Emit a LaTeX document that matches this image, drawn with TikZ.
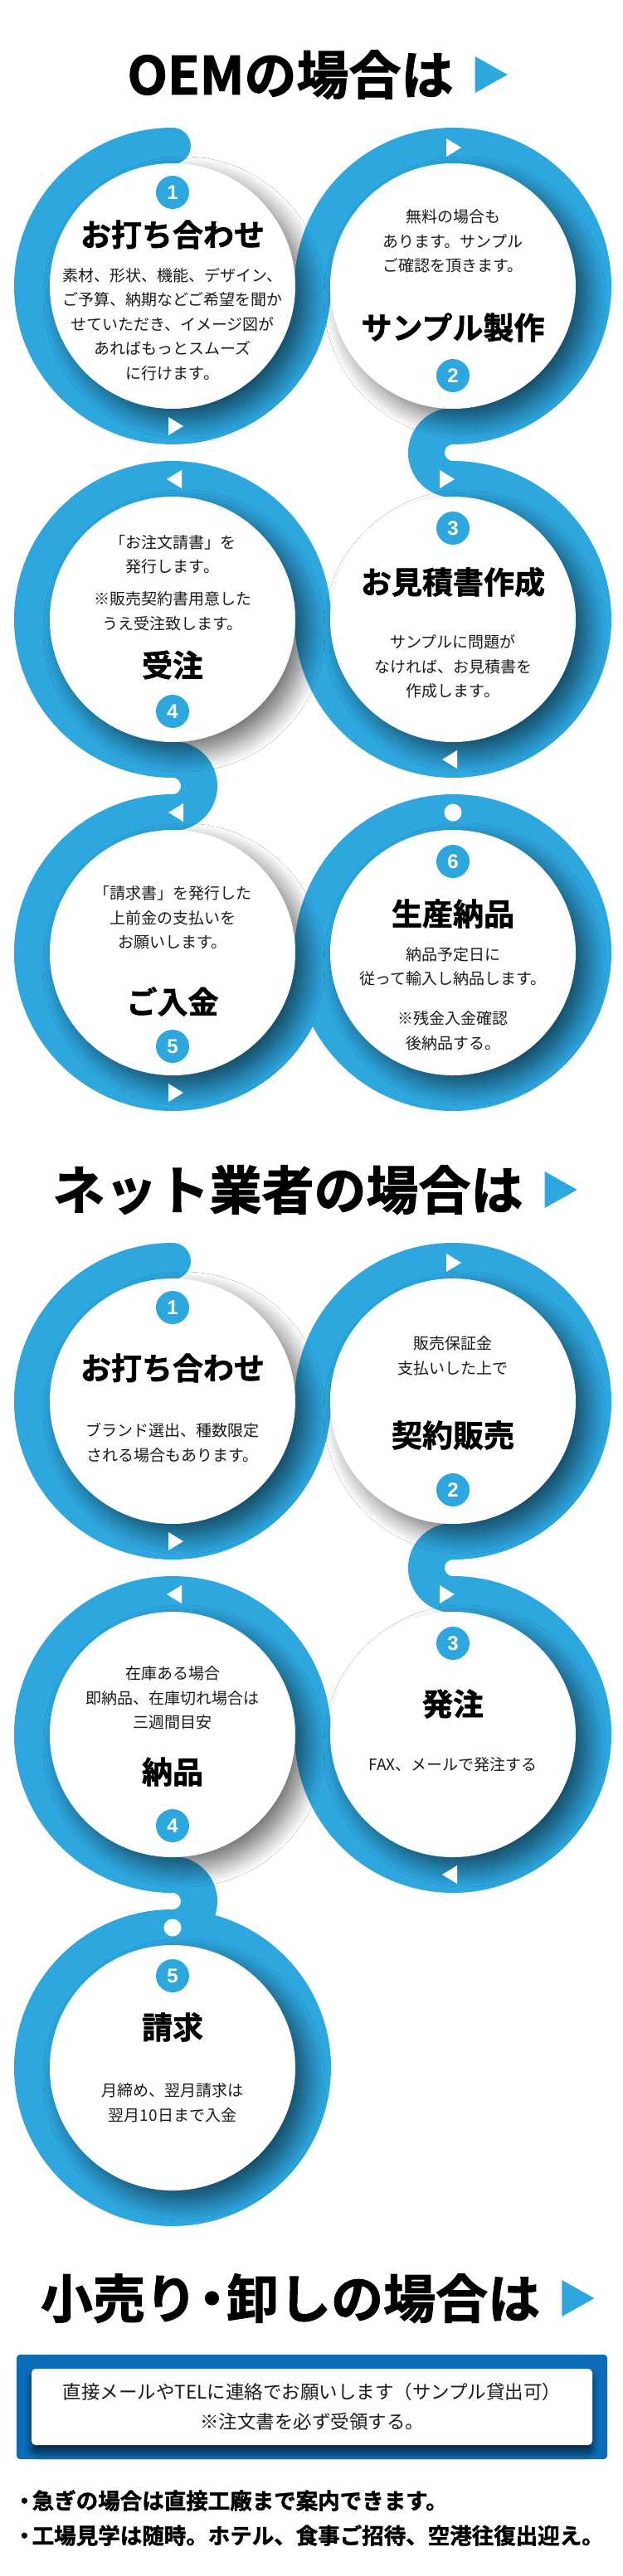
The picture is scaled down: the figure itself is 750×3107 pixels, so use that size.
\documentclass[tikz,border=0pt]{standalone}
\usepackage{fontspec}
\usepackage{tikz}
\usetikzlibrary{positioning,calc,shadows.blur}
\setmainfont{Noto Sans CJK JP}[BoldFont={Noto Sans CJK JP Bold}]
\newfontfamily\heavyjp{Noto Sans CJK JP Bold}[FakeBold=1.6]
\newfontfamily\numsans{Liberation Sans}
\newcommand{\headfont}{\heavyjp\fontsize{63}{70}\selectfont}
\newcommand{\stepfont}{\heavyjp\fontsize{37}{42}\selectfont}
\newcommand{\bodyfont}{\fontsize{19}{29.5}\selectfont}
\newcommand{\notefont}{\fontsize{22.5}{36}\selectfont}
\newcommand{\bulletfont}{\heavyjp\fontsize{26.5}{42}\selectfont}
\newcommand{\middot}{\kern-0.22em・\kern-0.22em}
\definecolor{ringblue}{RGB}{46,166,222}
\definecolor{boxblue}{RGB}{12,108,182}
\definecolor{ink}{RGB}{26,26,26}
\tikzset{
    band/.style={
        draw=ringblue,
        line width=44pt
    },
    disk/.style={
        circle,
        fill=white,
        minimum size=296pt,
        inner sep=0pt,
        blur shadow={shadow xshift=14pt, shadow yshift=-14pt,
            shadow blur radius=22pt, shadow blur steps=14,
            shadow opacity=55}
    },
    badge/.style={
        circle,
        fill=ringblue,
        minimum size=40pt,
        inner sep=0pt,
        text=white,
        font=\numsans\bfseries\fontsize{24}{24}\selectfont
    },
    endpoint/.style={
        circle,
        fill=white,
        minimum size=21pt,
        inner sep=0pt
    },
    steptitle/.style={
        font=\stepfont,
        inner sep=0pt
    },
    stepnote/.style={
        font=\bodyfont,
        text=ink,
        align=center,
        inner sep=0pt
    },
    heading/.style={
        font=\headfont,
        inner sep=0pt
    },
    outerbox/.style={
        rectangle,
        fill=boxblue,
        rounded corners=4pt,
        minimum width=712pt,
        minimum height=126pt
    },
    innerbox/.style={
        rectangle,
        fill=white,
        rounded corners=5pt,
        minimum width=676pt,
        minimum height=92pt,
        align=center,
        text=ink,
        font=\notefont,
        blur shadow={shadow xshift=0pt, shadow yshift=-9pt,
            shadow blur radius=8pt, shadow blur steps=10,
            shadow opacity=60}
    },
    bulletline/.style={
        font=\bulletfont,
        anchor=west,
        inner sep=0pt
    },
    arrowfwd/.pic={\fill[white] (-8,-11) -- (10,0) -- (-8,11) -- cycle;},
    arrowback/.pic={\fill[white] (8,-11) -- (-10,0) -- (8,11) -- cycle;},
    headarrow/.pic={\fill[ringblue] (0,-22) -- (39,0) -- (0,22) -- cycle;}
}

\begin{document}
\begin{tikzpicture}[x=1pt, y=-1pt]
    \fill[white] (0,0) rectangle (750,3107);
    \useasboundingbox (0,0) rectangle (750,3107);

    \coordinate (o1) at (208,345);
    \coordinate (o2) at (546,345);
    \coordinate (o3) at (546,747);
    \coordinate (o4) at (208,747);
    \coordinate (o5) at (208,1149);
    \coordinate (o6) at (546,1149);
    \coordinate (n1) at (208,1690);
    \coordinate (n2) at (546,1690);
    \coordinate (n3) at (546,2092);
    \coordinate (n4) at (208,2092);
    \coordinate (n5) at (208,2494);

    \node[heading] (h1) at (350,90) {OEMの場合は};
    \pic at ($(h1.east)+(26,0)$) {headarrow};

    \draw[band, line cap=round]
        ($(o1)+(0,-169)$)
        arc[start angle=270, end angle=0, radius=169]
        arc[start angle=180, end angle=450, radius=169]
        arc[start angle=270, end angle=90, radius=32]
        arc[start angle=270, end angle=540, radius=169]
        arc[start angle=0, end angle=-270, radius=169]
        arc[start angle=-90, end angle=90, radius=32]
        arc[start angle=270, end angle=0, radius=169]
        arc[start angle=180, end angle=540, radius=169];

    \foreach \c/\d in {o1/d1, o2/d2, o3/d3, o4/d4, o5/d5, o6/d6}
        \node[disk] (\d) at (\c) {};

    \pic at (546,178) {arrowfwd};
    \pic at (211,514) {arrowfwd};
    \pic at (538,578) {arrowfwd};
    \pic at (543,916) {arrowback};
    \pic at (211,578) {arrowback};
    \pic at (213,980) {arrowback};
    \pic at (211,1318) {arrowfwd};
    \node[endpoint] (e1) at (546,980) {};

    \node[badge] (b1) at ($(o1)+(0,-113)$) {1};
    \node[steptitle] (t1) at ($(o1)+(0,-62)$) {お打ち合わせ};
    \node[stepnote] (m1) at ($(o1)+(0,46)$)
        {素材、形状、機能、デザイン、\\
        ご予算、納期などご希望を聞か\\
        せていただき、イメージ図が\\
        あればもっとスムーズ\\
        に行けます。};

    \node[stepnote] (m2) at ($(o2)+(0,-54)$)
        {無料の場合も\\
        あります。サンプル\\
        ご確認を頂きます。};
    \node[steptitle] (t2) at ($(o2)+(0,50)$) {サンプル製作};
    \node[badge] (b2) at ($(o2)+(0,108)$) {2};

    \node[badge] (b3) at ($(o3)+(0,-110)$) {3};
    \node[steptitle] (t3) at ($(o3)+(0,-45)$) {お見積書作成};
    \node[stepnote] (m3) at ($(o3)+(0,57)$)
        {サンプルに問題が\\
        なければ、お見積書を\\
        作成します。};

    \node[stepnote] (m4) at ($(o4)+(0,-44)$)
        {「お注文請書」を\\
        発行します。\\[9.5pt]
        ※販売契約書用意した\\
        うえ受注致します。};
    \node[steptitle] (t4) at ($(o4)+(0,55)$) {受注};
    \node[badge] (b4) at ($(o4)+(0,111)$) {4};

    \node[stepnote] (m5) at ($(o5)+(0,-42)$)
        {「請求書」を発行した\\
        上前金の支払いを\\
        お願いします。};
    \node[steptitle] (t5) at ($(o5)+(0,59)$) {ご入金};
    \node[badge] (b5) at ($(o5)+(0,113)$) {5};

    \node[badge] (b6) at ($(o6)+(0,-110)$) {6};
    \node[steptitle] (t6) at ($(o6)+(0,-47)$) {生産納品};
    \node[stepnote] (m6) at ($(o6)+(0,55.5)$)
        {納品予定日に\\
        従って輸入し納品します。\\[18.5pt]
        ※残金入金確認\\
        後納品する。};

    \node[heading] (h2) at (347,1435) {ネット業者の場合は};
    \pic at ($(h2.east)+(26,0)$) {headarrow};

    \draw[band, line cap=round]
        ($(n1)+(0,-169)$)
        arc[start angle=270, end angle=0, radius=169]
        arc[start angle=180, end angle=450, radius=169]
        arc[start angle=270, end angle=90, radius=32]
        arc[start angle=270, end angle=540, radius=169]
        arc[start angle=0, end angle=-270, radius=169]
        arc[start angle=-90, end angle=90, radius=32]
        arc[start angle=270, end angle=630, radius=169];

    \foreach \c/\d in {n1/f1, n2/f2, n3/f3, n4/f4, n5/f5}
        \node[disk] (\d) at (\c) {};

    \pic at (211,1859) {arrowfwd};
    \pic at (546,1523) {arrowfwd};
    \pic at (538,1923) {arrowfwd};
    \pic at (543,2261) {arrowback};
    \pic at (211,1923) {arrowback};
    \node[endpoint] (e2) at (208,2325) {};

    \node[badge] (c1) at ($(n1)+(0,-113)$) {1};
    \node[steptitle] (u1) at ($(n1)+(0,-40)$) {お打ち合わせ};
    \node[stepnote] (k1) at ($(n1)+(0,50)$)
        {ブランド選出、種数限定\\
        される場合もあります。};

    \node[stepnote] (k2) at ($(n2)+(0,-54.5)$)
        {販売保証金\\
        支払いした上で};
    \node[steptitle] (u2) at ($(n2)+(0,41)$) {契約販売};
    \node[badge] (c2) at ($(n2)+(0,107)$) {2};

    \node[badge] (c3) at ($(n3)+(0,-110)$) {3};
    \node[steptitle] (u3) at ($(n3)+(0,-37)$) {発注};
    \node[stepnote] (k3) at ($(n3)+(0,36)$) {FAX、メールで発注する};

    \node[stepnote] (k4) at ($(n4)+(0,-44)$)
        {在庫ある場合\\
        即納品、在庫切れ場合は\\
        三週間目安};
    \node[steptitle] (u4) at ($(n4)+(0,45)$) {納品};
    \node[badge] (c4) at ($(n4)+(0,110)$) {4};

    \node[badge] (c5) at ($(n5)+(0,-111)$) {5};
    \node[steptitle] (u5) at ($(n5)+(0,-49)$) {請求};
    \node[stepnote] (k5) at ($(n5)+(0,42.5)$)
        {月締め、翌月請求は\\
        翌月10日まで入金};

    \node[heading] (h3) at (350,2772) {小売り\middot 卸しの場合は};
    \pic at ($(h3.east)+(26,0)$) {headarrow};

    \node[outerbox] (panel) at (376,2903) {};
    \node[innerbox] (note) at (376,2903)
        {直接メールやTELに連絡でお願いします（サンプル貸出可）\\
        ※注文書を必ず受領する。};

    \node[bulletline] (p1) at (16,3016) {・\kern-0.15em 急ぎの場合は直接工廠まで案内できます。};
    \node[bulletline] (p2) at (16,3058) {・\kern-0.15em 工場見学は随時。ホテル、食事ご招待、空港往復出迎え。};
\end{tikzpicture}
\end{document}
